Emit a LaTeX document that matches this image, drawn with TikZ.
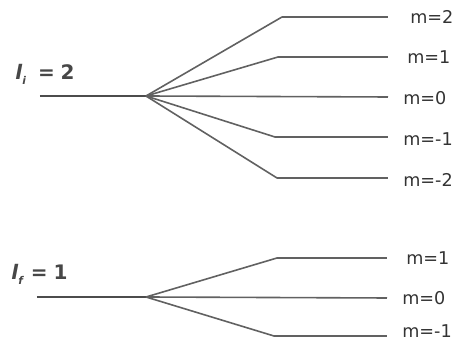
\documentclass[tikz,border=0pt]{standalone}
\usepackage{fontspec}
\setmainfont{DejaVu Sans}
\begin{document}
\begin{tikzpicture}[x=0.75pt,y=-0.75pt,
  lvl/.style={draw=black!62, line width=1.2pt, line join=round},
  base/.style={draw=black!70, line width=1.6pt},
  mlab/.style={anchor=west, inner sep=0pt, text=black!80, font=\fontsize{13.2}{15}\selectfont},
  llab/.style={anchor=base west, inner sep=0pt, text=black!72, font=\fontsize{15}{17}\selectfont\bfseries}]
\useasboundingbox (0,0) rectangle (462,341);
% upper level l_i = 2
\coordinate (ua) at (40,96);
\coordinate (uf) at (146,96);
\coordinate (b2) at (282,17);  \coordinate (e2) at (388,17);
\coordinate (b1) at (278,57);  \coordinate (e1) at (388,57);
\coordinate (e0) at (388,97);
\coordinate (bm1) at (275,137); \coordinate (em1) at (388,137);
\coordinate (bm2) at (277,178); \coordinate (em2) at (388,178);
\draw[base] (ua) -- (uf);
\draw[lvl] (uf) -- (b2) -- (e2);
\draw[lvl] (uf) -- (b1) -- (e1);
\draw[lvl] (uf) -- (e0);
\draw[lvl] (uf) -- (bm1) -- (em1);
\draw[lvl] (uf) -- (bm2) -- (em2);
\node[mlab] (t2) at (410,17) {m=2};
\node[mlab] (t1) at (407,57) {m=1};
\node[mlab] (t0) at (403,98) {m=0};
\node[mlab] (tm1) at (403,139) {m=-1};
\node[mlab] (tm2) at (403,180) {m=-2};
\node[llab] (li) at (15,80) {\textit{l}\raisebox{-0.45ex}{\fontsize{8}{9}\selectfont\itshape i}\hspace{0.6em}=\hspace{0.3em}2};
% lower level l_f = 1
\coordinate (la) at (37,297);
\coordinate (lf) at (146,297);
\coordinate (c1) at (277,258); \coordinate (f1) at (387,258);
\coordinate (f0) at (387,298);
\coordinate (cm1) at (274,336); \coordinate (fm1) at (387,336);
\draw[base] (la) -- (lf);
\draw[lvl] (lf) -- (c1) -- (f1);
\draw[lvl] (lf) -- (f0);
\draw[lvl] (lf) -- (cm1) -- (fm1);
\node[mlab] (s1) at (406,258) {m=1};
\node[mlab] (s0) at (402,298) {m=0};
\node[mlab] (sm1) at (402,331) {m=-1};
\node[llab] (lfl) at (11,280) {\textit{l}\raisebox{-0.45ex}{\fontsize{8}{9}\selectfont\itshape f}\hspace{0.4em}=\hspace{0.3em}1};
\end{tikzpicture}
\end{document}
